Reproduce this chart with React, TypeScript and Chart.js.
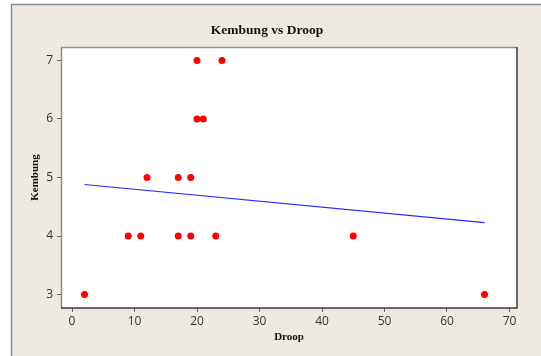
import React, { useEffect, useRef } from "react";
import { Chart, registerables } from "chart.js";

Chart.register(...registerables);

const droop = [2, 9, 11, 12, 17, 17, 19, 19, 20, 20, 21, 23, 24, 45, 66];
const kembung = [3, 4, 4, 5, 5, 4, 5, 4, 7, 6, 6, 4, 7, 4, 3];
const fitX = [2, 66];
const fitY = [4.88, 4.23];
const xTicks = [0, 10, 20, 30, 40, 50, 60, 70];
const yTicks = [3, 4, 5, 6, 7];
const chartTitle = "Kembung vs Droop";
const xTitle = "Droop";
const yTitle = "Kembung";

const W = 541;
const H = 356;

const framePlugin = {
  id: "frame",
  beforeDraw(chart: any) {
    const { ctx, chartArea } = chart;
    ctx.save();
    ctx.fillStyle = "#ffffff";
    ctx.fillRect(0, 0, W, H);
    ctx.fillStyle = "#eeeae1";
    ctx.fillRect(11, 4, W - 11, H - 4);
    ctx.strokeStyle = "#8a8a8a";
    ctx.lineWidth = 1.5;
    ctx.beginPath();
    ctx.moveTo(11.5, H);
    ctx.lineTo(11.5, 4.5);
    ctx.lineTo(W, 4.5);
    ctx.stroke();
    ctx.fillStyle = "#ffffff";
    ctx.fillRect(chartArea.left, chartArea.top, chartArea.right - chartArea.left, chartArea.bottom - chartArea.top);
    ctx.restore();
  },
  afterDraw(chart: any) {
    const { ctx, chartArea } = chart;
    const { left, top, right, bottom } = chartArea;
    ctx.save();
    ctx.lineWidth = 1.5;
    ctx.strokeStyle = "#8c8c8c";
    ctx.beginPath();
    ctx.moveTo(left + 0.5, bottom);
    ctx.lineTo(left + 0.5, top + 0.5);
    ctx.lineTo(right, top + 0.5);
    ctx.stroke();
    ctx.strokeStyle = "#3a3a3a";
    ctx.beginPath();
    ctx.moveTo(right, top);
    ctx.lineTo(right, bottom);
    ctx.lineTo(left, bottom);
    ctx.stroke();

    ctx.fillStyle = "#111111";
    ctx.textAlign = "center";
    ctx.textBaseline = "middle";
    ctx.font = "bold 13.5px 'Liberation Serif'";
    ctx.fillText(chartTitle, 267, 31);
    ctx.font = "bold 11px 'Liberation Serif'";
    ctx.fillText(xTitle, (left + right) / 2, 337);
    ctx.translate(35, (top + bottom) / 2);
    ctx.rotate(-Math.PI / 2);
    ctx.fillText(yTitle, 0, 0);
    ctx.restore();
  },
};

export default function App() {
  const ref = useRef<HTMLCanvasElement | null>(null);

  useEffect(() => {
    if (!ref.current) return;
    const tickFont = { family: "'Open Sans'", size: 12 };
    const chart = new Chart(ref.current, {
      type: "scatter",
      data: {
        datasets: [
          {
            label: "Data",
            data: droop.map((x, i) => ({ x, y: kembung[i] })),
            backgroundColor: "#ff0000",
            borderWidth: 0,
            pointRadius: 3.5,
          },
          {
            label: "Fit",
            data: fitX.map((x, i) => ({ x, y: fitY[i] })),
            showLine: true,
            borderColor: "#2626ff",
            borderWidth: 1.2,
            pointRadius: 0,
          },
        ],
      },
      plugins: [framePlugin],
      options: {
        responsive: false,
        animation: false,
        devicePixelRatio: 1,
        layout: { padding: { top: 47, right: 24, left: 0, bottom: 0 } },
        plugins: {
          legend: { display: false },
          tooltip: { enabled: false },
          title: { display: false },
        },
        scales: {
          x: {
            type: "linear",
            min: -1.76,
            max: 71.2,
            afterBuildTicks: (s: any) => {
              s.ticks = xTicks.map((v) => ({ value: v }));
            },
            afterFit: (s: any) => {
              s.height = 48;
            },
            grid: { drawOnChartArea: false, drawTicks: true, tickLength: 4, color: "#666666", lineWidth: 1 },
            border: { display: false },
            ticks: { padding: 2, color: "#333333", font: tickFont, maxRotation: 0, autoSkip: false },
          },
          y: {
            type: "linear",
            min: 2.77,
            max: 7.23,
            afterBuildTicks: (s: any) => {
              s.ticks = yTicks.map((v) => ({ value: v }));
            },
            afterFit: (s: any) => {
              s.width = 61;
            },
            grid: { drawOnChartArea: false, drawTicks: true, tickLength: 4, color: "#666666", lineWidth: 1 },
            border: { display: false },
            ticks: { padding: 4, color: "#333333", font: tickFont, autoSkip: false },
          },
        },
      },
    } as any);
    return () => chart.destroy();
  }, []);

  return (
    <div style={{ position: "fixed", left: 0, top: 0, width: W, height: H }}>
      <canvas ref={ref} width={W} height={H} style={{ display: "block", width: W, height: H }} />
    </div>
  );
}
